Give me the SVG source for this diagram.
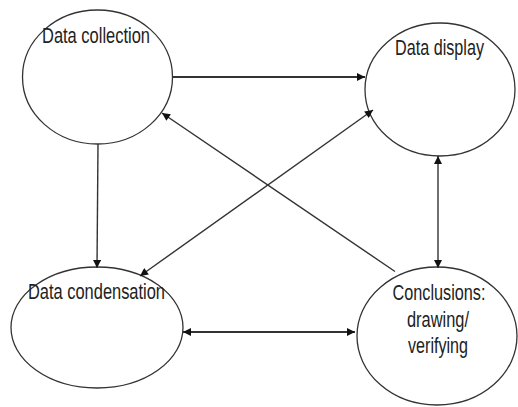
<svg xmlns="http://www.w3.org/2000/svg" width="518" height="407" viewBox="0 0 518 407">
<style>
.node ellipse{fill:#fff;stroke:#333;stroke-width:1.3}
.node text{font-family:"Liberation Sans",Arial,sans-serif;font-size:22px;fill:#222;text-anchor:middle}
.conn line{stroke:#333;stroke-width:1.4;fill:none}
.conn .thick{stroke-width:2.2}
</style>
<defs>
<marker id="ah" viewBox="0 0 10 10" refX="10" refY="5" markerWidth="9" markerHeight="8" markerUnits="userSpaceOnUse" orient="auto-start-reverse">
<path d="M0,0 L10,5 L0,10 z" fill="#111"/>
</marker>
</defs>
<rect width="518" height="407" fill="#fff"/>
<g id="n-collection" class="node">
<ellipse cx="97.5" cy="77" rx="75" ry="67"/>
<text x="96" y="42.5" textLength="108" lengthAdjust="spacingAndGlyphs">Data collection</text>
</g>
<g id="n-display" class="node">
<ellipse cx="440" cy="89.5" rx="75" ry="66.5"/>
<text x="439.5" y="55" textLength="89" lengthAdjust="spacingAndGlyphs">Data display</text>
</g>
<g id="n-condensation" class="node">
<ellipse cx="97" cy="327.5" rx="86" ry="60.5"/>
<text x="96.5" y="299" textLength="137" lengthAdjust="spacingAndGlyphs">Data condensation</text>
</g>
<g id="n-conclusions" class="node">
<ellipse cx="437" cy="336" rx="80" ry="69"/>
<text x="439" y="300" textLength="93" lengthAdjust="spacingAndGlyphs">Conclusions:</text>
<text x="438" y="327" textLength="62" lengthAdjust="spacingAndGlyphs">drawing/</text>
<text x="438" y="353" textLength="60" lengthAdjust="spacingAndGlyphs">verifying</text>
</g>
<g id="connectors" class="conn">
<line class="thick" x1="172" y1="77" x2="365" y2="77" marker-end="url(#ah)"/>
<line x1="98" y1="144" x2="97" y2="268" marker-end="url(#ah)"/>
<line x1="395" y1="271.5" x2="162" y2="113" marker-end="url(#ah)"/>
<line x1="140" y1="276" x2="373" y2="110" marker-start="url(#ah)" marker-end="url(#ah)"/>
<line x1="438" y1="156" x2="438" y2="268" marker-start="url(#ah)" marker-end="url(#ah)"/>
<line class="thick" x1="183" y1="332" x2="355" y2="332" marker-start="url(#ah)" marker-end="url(#ah)"/>
</g>
</svg>
